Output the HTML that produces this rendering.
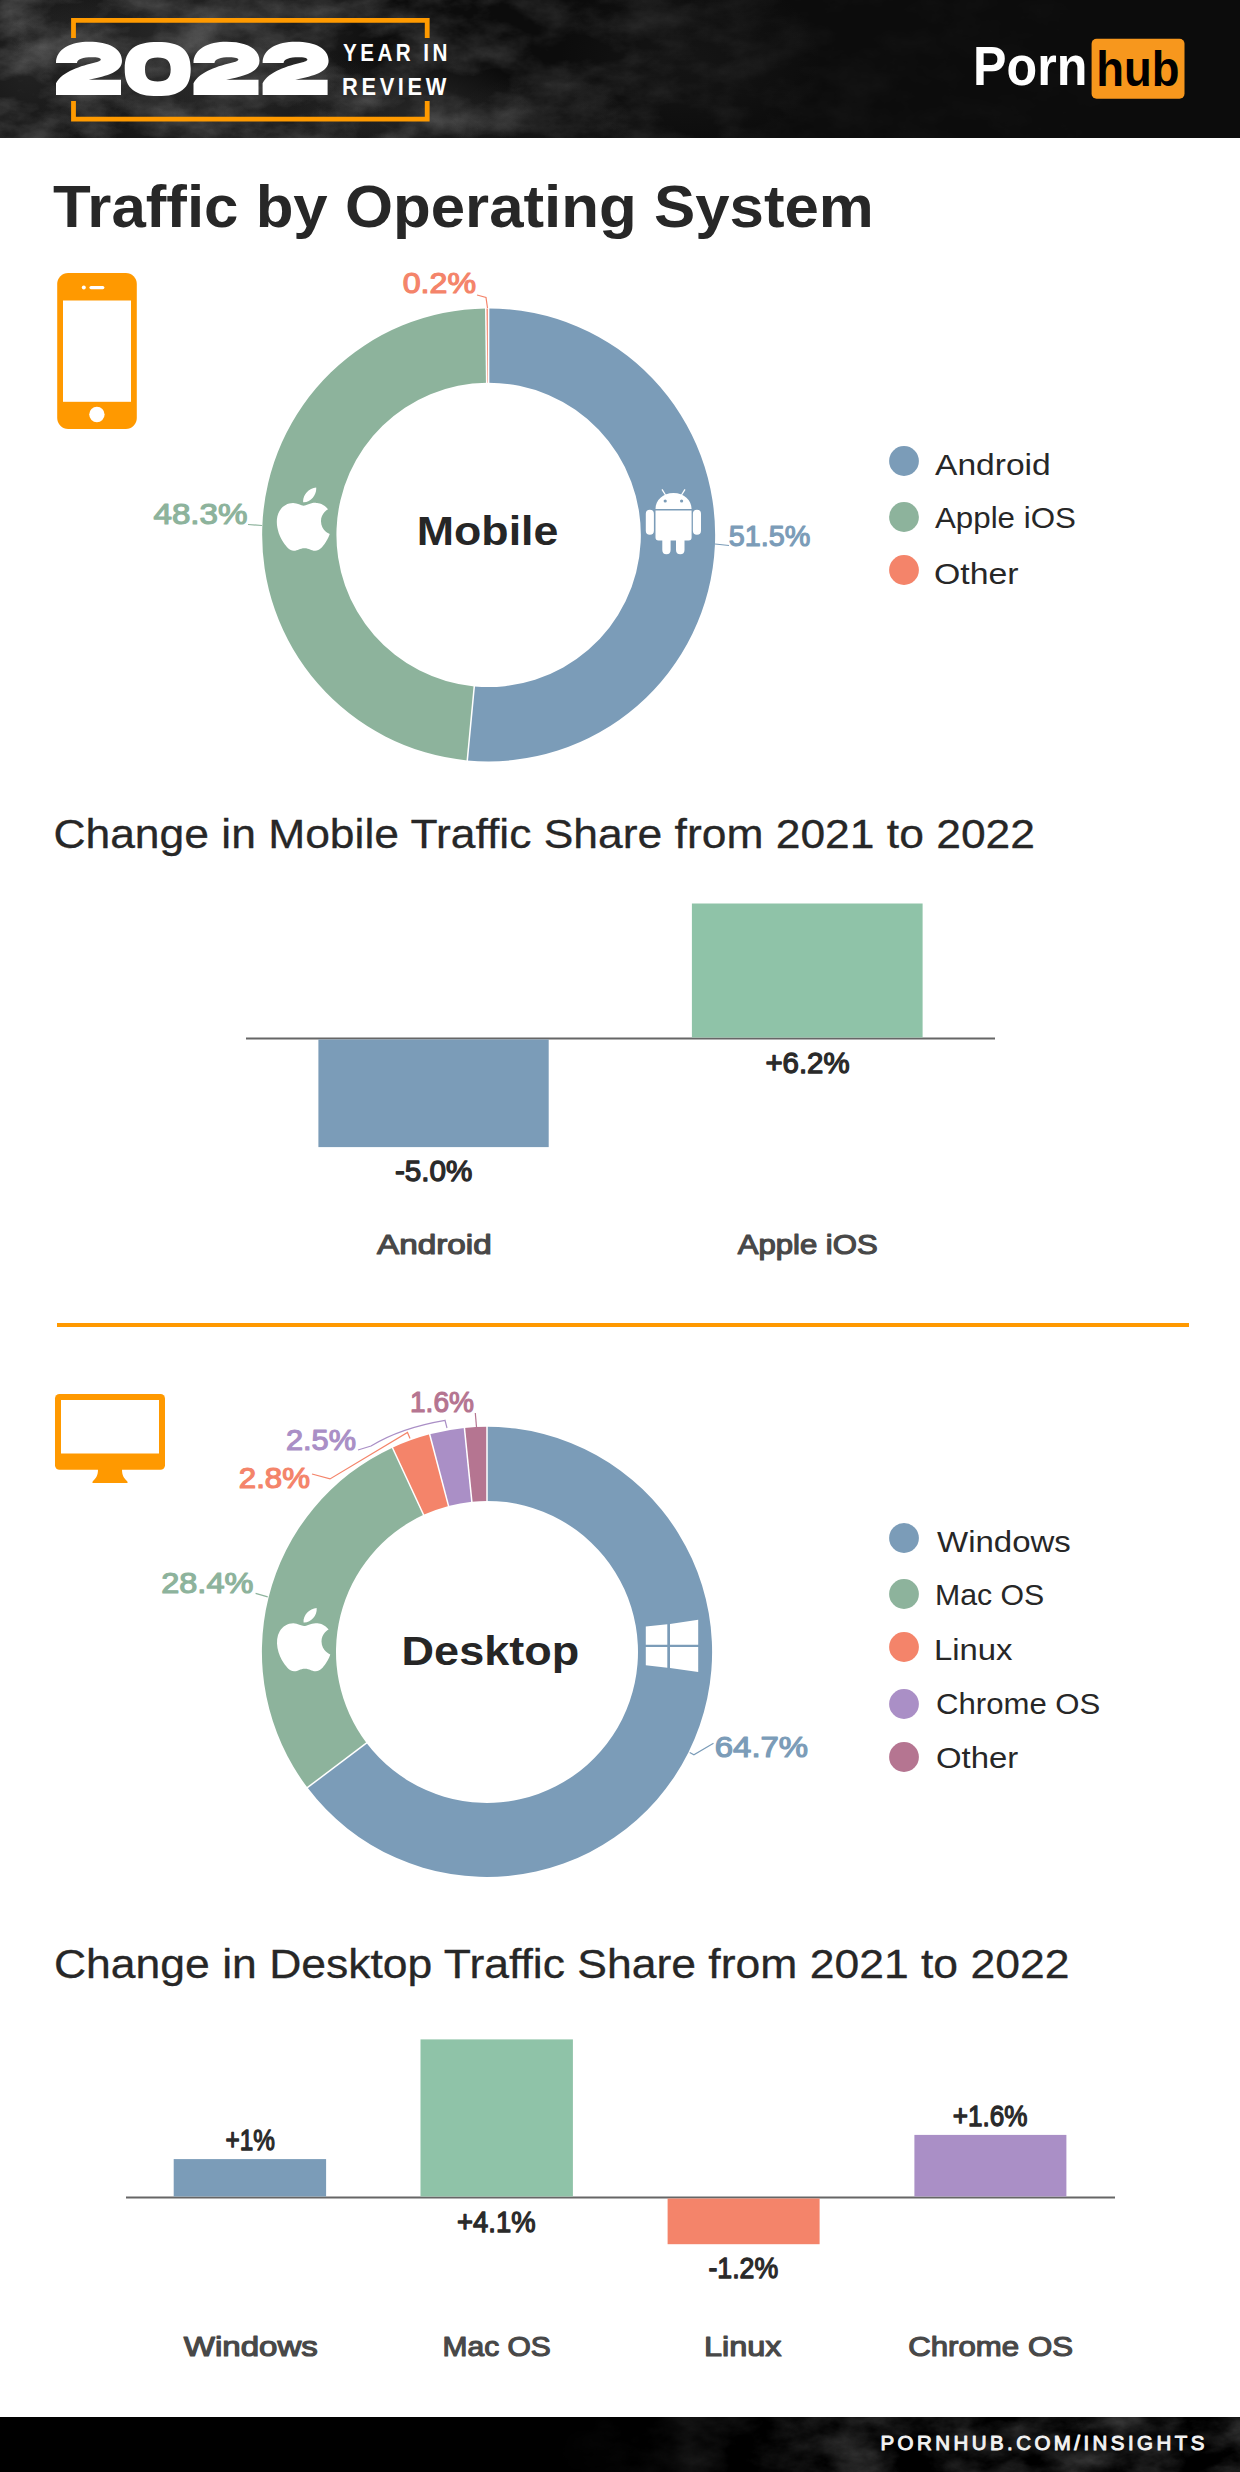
<!DOCTYPE html>
<html><head><meta charset="utf-8"><title>Traffic by Operating System</title>
<style>
html,body{margin:0;padding:0;background:#fff;}
body{width:1240px;height:2472px;overflow:hidden;}
svg{display:block;font-family:"Liberation Sans",sans-serif;}
</style></head><body>
<svg width="1240" height="2472" viewBox="0 0 1240 2472">
<defs>
<filter id="tex" x="0" y="0" width="100%" height="100%">
<feTurbulence type="fractalNoise" baseFrequency="0.018 0.03" numOctaves="5" seed="11"/>
<feColorMatrix type="matrix" values="0 0 0 0 1  0 0 0 0 1  0 0 0 0 1  1.6 0 0 0 -0.55"/>
</filter>
<linearGradient id="hg" x1="0" x2="1" y1="0" y2="0">
<stop offset="0" stop-color="#fff" stop-opacity="1"/>
<stop offset="0.35" stop-color="#fff" stop-opacity="0.8"/>
<stop offset="0.65" stop-color="#fff" stop-opacity="0.15"/>
<stop offset="1" stop-color="#fff" stop-opacity="0"/>
</linearGradient>
<mask id="hm"><rect x="0" y="0" width="1240" height="138" fill="url(#hg)"/></mask>
<linearGradient id="fg" x1="0" x2="1" y1="0" y2="0">
<stop offset="0" stop-color="#fff" stop-opacity="0"/>
<stop offset="0.45" stop-color="#fff" stop-opacity="0"/>
<stop offset="0.7" stop-color="#fff" stop-opacity="0.8"/>
<stop offset="1" stop-color="#fff" stop-opacity="0.9"/>
</linearGradient>
<mask id="fm"><rect x="0" y="2417" width="1240" height="55" fill="url(#fg)"/></mask>
</defs>
<rect x="0" y="0" width="1240" height="138" fill="#0c0c0c"/>
<defs><radialGradient id="rb"><stop offset="0" stop-color="#4a4a4a" stop-opacity="1"/><stop offset="0.5" stop-color="#4a4a4a" stop-opacity="0.6"/><stop offset="1" stop-color="#4a4a4a" stop-opacity="0"/></radialGradient></defs>
<clipPath id="hc"><rect x="0" y="0" width="1240" height="138"/></clipPath><g clip-path="url(#hc)"><ellipse cx="30" cy="70" rx="110" ry="120" fill="url(#rb)" opacity="0.35"/><ellipse cx="200" cy="35" rx="190" ry="80" fill="url(#rb)" opacity="0.5"/><ellipse cx="220" cy="110" rx="180" ry="75" fill="url(#rb)" opacity="0.4"/><ellipse cx="410" cy="112" rx="120" ry="60" fill="url(#rb)" opacity="0.4"/><ellipse cx="540" cy="120" rx="90" ry="45" fill="url(#rb)" opacity="0.2"/><ellipse cx="690" cy="60" rx="130" ry="90" fill="url(#rb)" opacity="0.14"/></g>
<g mask="url(#hm)"><rect x="0" y="0" width="1240" height="138" filter="url(#tex)" opacity="0.28"/></g>
<path d="M73.5,38 L73.5,20.3 L427.2,20.3 L427.2,38" fill="none" stroke="#ff9a00" stroke-width="4.8"/>
<path d="M73.5,101 L73.5,119.2 L427.2,119.2 L427.2,101" fill="none" stroke="#ff9a00" stroke-width="4.8"/>
<path fill="#fff" transform="translate(56,41.8)" d="M0,21.2 C0,7 15,0 33,0 C53,0 66,7 66,19 C66,30 52,34 32.7,38 L65,38 L65,53.2 L0,53.2 L0,41.5 C6,30 25,24 40,20.5 C47,19 47,15.5 36,15.5 C27,15.5 21,17.5 21,21.2 Z"/>
<path fill="#fff" fill-rule="evenodd" transform="translate(124.7,41.9)" d="M33,0 C55,0 66,7 66,27 C66,47 55,54.2 33,54.2 C11,54.2 0,47 0,27 C0,7 11,0 33,0 Z M33,15.7 C42,15.7 46,19 46,27.7 C46,36.4 42,39.7 33,39.7 C24,39.7 20.3,36.4 20.3,27.7 C20.3,19 24,15.7 33,15.7 Z"/>
<path fill="#fff" transform="translate(193.5,41.8)" d="M0,21.2 C0,7 15,0 33,0 C53,0 66,7 66,19 C66,30 52,34 32.7,38 L65,38 L65,53.2 L0,53.2 L0,41.5 C6,30 25,24 40,20.5 C47,19 47,15.5 36,15.5 C27,15.5 21,17.5 21,21.2 Z"/>
<path fill="#fff" transform="translate(262.6,41.8)" d="M0,21.2 C0,7 15,0 33,0 C53,0 66,7 66,19 C66,30 52,34 32.7,38 L65,38 L65,53.2 L0,53.2 L0,41.5 C6,30 25,24 40,20.5 C47,19 47,15.5 36,15.5 C27,15.5 21,17.5 21,21.2 Z"/>
<text x="343.1" y="60.7" font-size="24" font-weight="bold" fill="#fff" text-anchor="start" textLength="107.8" lengthAdjust="spacingAndGlyphs" letter-spacing="4" id="yearin">YEAR IN</text>
<text x="342.1" y="95.1" font-size="24" font-weight="bold" fill="#fff" text-anchor="start" textLength="107.9" lengthAdjust="spacingAndGlyphs" letter-spacing="4" id="review">REVIEW</text>
<text x="973.0" y="85.0" font-size="55.4" font-weight="bold" fill="#fff" text-anchor="start" textLength="114.4" lengthAdjust="spacingAndGlyphs" id="porn">Porn</text>
<rect x="1091.6" y="38.7" width="92.9" height="60" rx="5" fill="#f7971d"/>
<text x="1096.3" y="85.5" font-size="50.5" font-weight="bold" fill="#000" text-anchor="start" textLength="83.2" lengthAdjust="spacingAndGlyphs" id="hub">hub</text>
<text x="53.0" y="227.4" font-size="58.6" font-weight="bold" fill="#272727" text-anchor="start" textLength="820.8" lengthAdjust="spacingAndGlyphs" id="title">Traffic by Operating System</text>
<rect x="57.2" y="273.1" width="79.6" height="155.8" rx="11" fill="#ff9900"/>
<rect x="63" y="300.5" width="68" height="101.3" fill="#fff"/>
<circle cx="96.9" cy="414.5" r="7.7" fill="#fff"/>
<rect x="89.4" y="286" width="15" height="3.2" rx="1.6" fill="#fff"/>
<circle cx="83.8" cy="287.5" r="2" fill="#fff"/>
<path fill="#7b9cb8" d="M488.60,308.40 A226.5,226.5 0 1 1 467.28,760.39 L474.28,686.42 A152.2,152.2 0 1 0 488.60,382.70 Z"/>
<path fill="#8db39c" d="M467.28,760.39 A226.5,226.5 0 0 1 485.75,308.42 L486.69,382.71 A152.2,152.2 0 0 0 474.28,686.42 Z"/>
<path fill="#f4846a" d="M485.75,308.42 A226.5,226.5 0 0 1 488.60,308.40 L488.60,382.70 A152.2,152.2 0 0 0 486.69,382.71 Z"/>
<line x1="488.60" y1="383.70" x2="488.60" y2="307.40" stroke="#fff" stroke-width="1.5"/>
<line x1="474.37" y1="685.43" x2="467.19" y2="761.39" stroke="#fff" stroke-width="1.5"/>
<line x1="486.70" y1="383.71" x2="485.74" y2="307.42" stroke="#fff" stroke-width="1.5"/>
<path d="M12.152 6.896c-.948 0-2.415-1.078-3.96-1.04-2.04.027-3.91 1.183-4.961 3.014-2.117 3.675-.546 9.103 1.519 12.09 1.013 1.454 2.208 3.09 3.792 3.039 1.52-.065 2.09-.987 3.935-.987 1.831 0 2.35.987 3.96.948 1.637-.026 2.676-1.48 3.676-2.948 1.156-1.688 1.636-3.325 1.662-3.415-.039-.013-3.182-1.221-3.22-4.857-.026-3.04 2.48-4.494 2.597-4.559-1.429-2.09-3.623-2.324-4.39-2.376-2-.156-3.675 1.09-4.61 1.09zM15.53 3.83c.843-1.012 1.4-2.427 1.245-3.83-1.207.052-2.662.805-3.532 1.818-.78.896-1.454 2.338-1.273 3.714 1.338.104 2.715-.688 3.559-1.701" fill="#fff" transform="translate(270.78,487.6) scale(2.706,2.633)"/>
<path d="M655.5,509 C655.5,500 663,492.9 673.5,492.9 C684,492.9 691.6,500 691.6,509 Z M655.5,510.6 L691.6,510.6 L691.6,537.5 Q691.6,540.5 688.6,540.5 L658.5,540.5 Q655.5,540.5 655.5,537.5 Z M645.8,513.8 Q645.8,509.8 649.85,509.8 Q653.9,509.8 653.9,513.8 L653.9,530.8 Q653.9,534.8 649.85,534.8 Q645.8,534.8 645.8,530.8 Z M692.9,513.8 Q692.9,509.8 696.95,509.8 Q701,509.8 701,513.8 L701,530.8 Q701,534.8 696.95,534.8 Q692.9,534.8 692.9,530.8 Z M662.3,539 L670.6,539 L670.6,550 Q670.6,554.2 666.45,554.2 Q662.3,554.2 662.3,550 Z M676,539 L684.5,539 L684.5,550 Q684.5,554.2 680.25,554.2 Q676,554.2 676,550 Z" fill="#fff"/>
<circle cx="665.2" cy="501" r="1.6" fill="#7b9cb8"/><circle cx="681.6" cy="501" r="1.6" fill="#7b9cb8"/>
<path d="M662,489.4 L665.5,495 M685,489.4 L681.5,495" stroke="#fff" stroke-width="1.3"/>
<text x="416.8" y="545.0" font-size="41.3" font-weight="bold" fill="#262626" text-anchor="start" textLength="141.6" lengthAdjust="spacingAndGlyphs" id="mobile">Mobile</text>
<text x="153.5" y="524.1" font-size="29.3" font-weight="normal" fill="#8db39c" text-anchor="start" textLength="94.0" lengthAdjust="spacingAndGlyphs" id="p48" stroke="#8db39c" stroke-width="1.2" stroke-linejoin="round">48.3%</text>
<text x="728.8" y="545.5" font-size="29.3" font-weight="normal" fill="#7b9cb8" text-anchor="start" textLength="81.6" lengthAdjust="spacingAndGlyphs" id="p51" stroke="#7b9cb8" stroke-width="1.2" stroke-linejoin="round">51.5%</text>
<text x="402.7" y="293.0" font-size="29.3" font-weight="normal" fill="#f4846a" text-anchor="start" textLength="73.3" lengthAdjust="spacingAndGlyphs" id="p02" stroke="#f4846a" stroke-width="1.2" stroke-linejoin="round">0.2%</text>
<path d="M248,524.5 L262,525.5" stroke="#8db39c" stroke-width="1.2" fill="none"/>
<path d="M715,544 L729,545.5" stroke="#7b9cb8" stroke-width="1.2" fill="none"/>
<path d="M477,295 L486,297.5 L487.5,308" stroke="#f4846a" stroke-width="1.2" fill="none"/>
<circle cx="904" cy="461" r="14.9" fill="#7b9cb8"/>
<text x="935.0" y="474.9" font-size="29.5" font-weight="normal" fill="#272727" text-anchor="start" textLength="115.69" lengthAdjust="spacingAndGlyphs" id="leg_android">Android</text>
<circle cx="904" cy="517" r="14.9" fill="#8db39c"/>
<text x="935.0" y="528.3" font-size="29.5" font-weight="normal" fill="#272727" text-anchor="start" textLength="140.83" lengthAdjust="spacingAndGlyphs" id="leg_ios">Apple iOS</text>
<circle cx="904" cy="570" r="14.9" fill="#f4846a"/>
<text x="934.0" y="583.6" font-size="29.5" font-weight="normal" fill="#272727" text-anchor="start" textLength="84.58" lengthAdjust="spacingAndGlyphs" id="leg_other">Other</text>
<text x="53.4" y="847.8" font-size="41.5" font-weight="normal" fill="#272727" text-anchor="start" textLength="981.6" lengthAdjust="spacingAndGlyphs" id="sub1" stroke="#272727" stroke-width="0.3" stroke-linejoin="round">Change in Mobile Traffic Share from 2021 to 2022</text>
<rect x="246" y="1037.5" width="749" height="2" fill="#666"/>
<rect x="318.4" y="1039.5" width="230.3" height="107.6" fill="#7b9cb8"/>
<rect x="691.9" y="903.5" width="230.7" height="134" fill="#8fc3a8"/>
<text x="433.6" y="1181.1" font-size="29.5" font-weight="normal" fill="#2a2a2a" text-anchor="middle" textLength="77.36" lengthAdjust="spacingAndGlyphs" id="v-5" stroke="#2a2a2a" stroke-width="1.3" stroke-linejoin="round">-5.0%</text>
<text x="807.5" y="1073.0" font-size="29.5" font-weight="normal" fill="#2a2a2a" text-anchor="middle" textLength="84.17" lengthAdjust="spacingAndGlyphs" id="v+6" stroke="#2a2a2a" stroke-width="1.3" stroke-linejoin="round">+6.2%</text>
<text x="434.4" y="1254.2" font-size="28.3" font-weight="normal" fill="#484848" text-anchor="middle" textLength="114.76" lengthAdjust="spacingAndGlyphs" id="cat_android" stroke="#484848" stroke-width="1.2" stroke-linejoin="round">Android</text>
<text x="807.7" y="1254.2" font-size="28.3" font-weight="normal" fill="#484848" text-anchor="middle" textLength="139.98" lengthAdjust="spacingAndGlyphs" id="cat_ios" stroke="#484848" stroke-width="1.2" stroke-linejoin="round">Apple iOS</text>
<rect x="57" y="1323" width="1132" height="4" fill="#ff9900"/>
<rect x="55" y="1393.9" width="110" height="75.9" rx="4.5" fill="#ff9900"/>
<rect x="61" y="1400" width="98" height="53.5" fill="#fff"/>
<path d="M98,1469 L122,1469 C122,1476 124,1478 127,1481 Q128.5,1483 126.5,1483 L93.5,1483 Q91.5,1483 93,1481 C96,1478 98,1476 98,1469 Z" fill="#ff9900"/>
<path fill="#7b9cb8" d="M487.00,1426.80 A225.1,225.1 0 1 1 307.42,1787.62 L366.53,1742.94 A151,151 0 1 0 487.00,1500.90 Z"/>
<path fill="#8db39c" d="M307.42,1787.62 A225.1,225.1 0 0 1 392.44,1447.63 L423.57,1514.87 A151,151 0 0 0 366.53,1742.94 Z"/>
<path fill="#f4846a" d="M392.44,1447.63 A225.1,225.1 0 0 1 429.65,1434.23 L448.53,1505.88 A151,151 0 0 0 423.57,1514.87 Z"/>
<path fill="#aa8fc6" d="M429.65,1434.23 A225.1,225.1 0 0 1 464.41,1427.94 L471.85,1501.66 A151,151 0 0 0 448.53,1505.88 Z"/>
<path fill="#b57591" d="M464.41,1427.94 A225.1,225.1 0 0 1 487.00,1426.80 L487.00,1500.90 A151,151 0 0 0 471.85,1501.66 Z"/>
<line x1="487.00" y1="1501.90" x2="487.00" y2="1425.80" stroke="#fff" stroke-width="1.5"/>
<line x1="367.33" y1="1742.34" x2="306.62" y2="1788.22" stroke="#fff" stroke-width="1.5"/>
<line x1="423.99" y1="1515.78" x2="392.02" y2="1446.72" stroke="#fff" stroke-width="1.5"/>
<line x1="448.78" y1="1506.85" x2="429.40" y2="1433.26" stroke="#fff" stroke-width="1.5"/>
<line x1="471.95" y1="1502.66" x2="464.31" y2="1426.94" stroke="#fff" stroke-width="1.5"/>
<path d="M12.152 6.896c-.948 0-2.415-1.078-3.96-1.04-2.04.027-3.91 1.183-4.961 3.014-2.117 3.675-.546 9.103 1.519 12.09 1.013 1.454 2.208 3.09 3.792 3.039 1.52-.065 2.09-.987 3.935-.987 1.831 0 2.35.987 3.96.948 1.637-.026 2.676-1.48 3.676-2.948 1.156-1.688 1.636-3.325 1.662-3.415-.039-.013-3.182-1.221-3.22-4.857-.026-3.04 2.48-4.494 2.597-4.559-1.429-2.09-3.623-2.324-4.39-2.376-2-.156-3.675 1.09-4.61 1.09zM15.53 3.83c.843-1.012 1.4-2.427 1.245-3.83-1.207.052-2.662.805-3.532 1.818-.78.896-1.454 2.338-1.273 3.714 1.338.104 2.715-.688 3.559-1.701" fill="#fff" transform="translate(270.93,1607.9) scale(2.726,2.642)"/>
<path d="M645.8,1626.6 L667.3,1624.2 L667.3,1644.8 L645.8,1644.8 Z M670,1623.9 L698.2,1619.7 L698.2,1644.7 L670,1644.7 Z M645.8,1647.1 L667.3,1647.1 L667.3,1667.7 L645.8,1665.3 Z M670,1647 L698.2,1647 L698.2,1672.1 L670,1668 Z" fill="#fff"/>
<text x="401.6" y="1665.4" font-size="41.3" font-weight="bold" fill="#262626" text-anchor="start" textLength="177.6" lengthAdjust="spacingAndGlyphs" id="desktop">Desktop</text>
<text x="161.2" y="1593.1" font-size="29.3" font-weight="normal" fill="#8db39c" text-anchor="start" textLength="92.2" lengthAdjust="spacingAndGlyphs" id="p28" stroke="#8db39c" stroke-width="1.2" stroke-linejoin="round">28.4%</text>
<text x="714.8" y="1757.2" font-size="29.3" font-weight="normal" fill="#7b9cb8" text-anchor="start" textLength="93.3" lengthAdjust="spacingAndGlyphs" id="p64" stroke="#7b9cb8" stroke-width="1.2" stroke-linejoin="round">64.7%</text>
<text x="238.8" y="1488.1" font-size="29.3" font-weight="normal" fill="#f4846a" text-anchor="start" textLength="71.2" lengthAdjust="spacingAndGlyphs" id="p2_8" stroke="#f4846a" stroke-width="1.2" stroke-linejoin="round">2.8%</text>
<text x="286.0" y="1449.8" font-size="29.3" font-weight="normal" fill="#aa8fc6" text-anchor="start" textLength="70.0" lengthAdjust="spacingAndGlyphs" id="p2_5" stroke="#aa8fc6" stroke-width="1.2" stroke-linejoin="round">2.5%</text>
<text x="410.0" y="1412.3" font-size="29.3" font-weight="normal" fill="#b57591" text-anchor="start" textLength="64.0" lengthAdjust="spacingAndGlyphs" id="p1_6" stroke="#b57591" stroke-width="1.2" stroke-linejoin="round">1.6%</text>
<path d="M255.6,1593.4 L267.7,1596.8" stroke="#8db39c" stroke-width="1.2" fill="none"/>
<path d="M689.7,1752.4 L693.9,1754.8 L713.5,1743.2" stroke="#7b9cb8" stroke-width="1.2" fill="none"/>
<path d="M312,1474 L330,1478.9 L407.5,1432.4 L410,1438.5" stroke="#f4846a" stroke-width="1.2" fill="none"/>
<path d="M358,1450 L371,1446 Q400,1428 445,1420.3 L447,1428" stroke="#aa8fc6" stroke-width="1.2" fill="none"/>
<path d="M475.3,1413 L476.5,1427" stroke="#b57591" stroke-width="1.2" fill="none"/>
<circle cx="904" cy="1538" r="14.9" fill="#7b9cb8"/>
<text x="937.0" y="1552" font-size="29.5" font-weight="normal" fill="#272727" text-anchor="start" textLength="133.87" lengthAdjust="spacingAndGlyphs" id="leg_win">Windows</text>
<circle cx="904" cy="1594" r="14.9" fill="#8db39c"/>
<text x="935.0" y="1605.4" font-size="29.5" font-weight="normal" fill="#272727" text-anchor="start" textLength="109.16" lengthAdjust="spacingAndGlyphs" id="leg_mac">Mac OS</text>
<circle cx="904" cy="1647" r="14.9" fill="#f4846a"/>
<text x="934.0" y="1660.3" font-size="29.5" font-weight="normal" fill="#272727" text-anchor="start" textLength="78.53" lengthAdjust="spacingAndGlyphs" id="leg_linux">Linux</text>
<circle cx="904" cy="1704" r="14.9" fill="#aa8fc6"/>
<text x="936.0" y="1713.7" font-size="29.5" font-weight="normal" fill="#272727" text-anchor="start" textLength="164.35" lengthAdjust="spacingAndGlyphs" id="leg_chrome">Chrome OS</text>
<circle cx="904" cy="1757" r="14.9" fill="#b57591"/>
<text x="936.0" y="1768.1" font-size="29.5" font-weight="normal" fill="#272727" text-anchor="start" textLength="82.18" lengthAdjust="spacingAndGlyphs" id="leg_other2">Other</text>
<text x="54.0" y="1978.4" font-size="41.5" font-weight="normal" fill="#272727" text-anchor="start" textLength="1015.4" lengthAdjust="spacingAndGlyphs" id="sub2" stroke="#272727" stroke-width="0.3" stroke-linejoin="round">Change in Desktop Traffic Share from 2021 to 2022</text>
<rect x="126" y="2196.5" width="989" height="2" fill="#666"/>
<rect x="173.7" y="2159.1" width="152.4" height="37.4" fill="#7b9cb8"/>
<rect x="420.5" y="2039.4" width="152.4" height="157.1" fill="#8fc3a8"/>
<rect x="667.6" y="2198.5" width="152" height="45.7" fill="#f4846a"/>
<rect x="914.4" y="2134.9" width="152" height="61.6" fill="#aa8fc6"/>
<text x="250.3" y="2149.7" font-size="29.5" font-weight="normal" fill="#2a2a2a" text-anchor="middle" textLength="49.43" lengthAdjust="spacingAndGlyphs" id="v+1" stroke="#2a2a2a" stroke-width="1.3" stroke-linejoin="round">+1%</text>
<text x="496.3" y="2232.0" font-size="29.5" font-weight="normal" fill="#2a2a2a" text-anchor="middle" textLength="78.37" lengthAdjust="spacingAndGlyphs" id="v+4" stroke="#2a2a2a" stroke-width="1.3" stroke-linejoin="round">+4.1%</text>
<text x="743.3" y="2277.5" font-size="29.5" font-weight="normal" fill="#2a2a2a" text-anchor="middle" textLength="69.76" lengthAdjust="spacingAndGlyphs" id="v-1" stroke="#2a2a2a" stroke-width="1.3" stroke-linejoin="round">-1.2%</text>
<text x="990.1" y="2125.5" font-size="29.5" font-weight="normal" fill="#2a2a2a" text-anchor="middle" textLength="74.77" lengthAdjust="spacingAndGlyphs" id="v+1.6" stroke="#2a2a2a" stroke-width="1.3" stroke-linejoin="round">+1.6%</text>
<text x="250.8" y="2355.7" font-size="28.3" font-weight="normal" fill="#484848" text-anchor="middle" textLength="134.22" lengthAdjust="spacingAndGlyphs" id="cat_win" stroke="#484848" stroke-width="1.2" stroke-linejoin="round">Windows</text>
<text x="496.7" y="2355.7" font-size="28.3" font-weight="normal" fill="#484848" text-anchor="middle" textLength="108.17" lengthAdjust="spacingAndGlyphs" id="cat_mac" stroke="#484848" stroke-width="1.2" stroke-linejoin="round">Mac OS</text>
<text x="742.7" y="2355.7" font-size="28.3" font-weight="normal" fill="#484848" text-anchor="middle" textLength="77.54" lengthAdjust="spacingAndGlyphs" id="cat_linux" stroke="#484848" stroke-width="1.2" stroke-linejoin="round">Linux</text>
<text x="990.6" y="2355.7" font-size="28.3" font-weight="normal" fill="#484848" text-anchor="middle" textLength="164.73" lengthAdjust="spacingAndGlyphs" id="cat_chrome" stroke="#484848" stroke-width="1.2" stroke-linejoin="round">Chrome OS</text>
<rect x="0" y="2417" width="1240" height="55" fill="#000"/>
<g mask="url(#fm)"><rect x="0" y="2417" width="1240" height="55" filter="url(#tex)" opacity="0.3"/></g>
<text x="880.4" y="2450" font-size="20.5" font-weight="normal" fill="#f2f2f2" text-anchor="start" textLength="324.0" lengthAdjust="spacing" id="footer" stroke="#f2f2f2" stroke-width="1.0" stroke-linejoin="round">PORNHUB.COM/INSIGHTS</text>
</svg>
</body></html>
